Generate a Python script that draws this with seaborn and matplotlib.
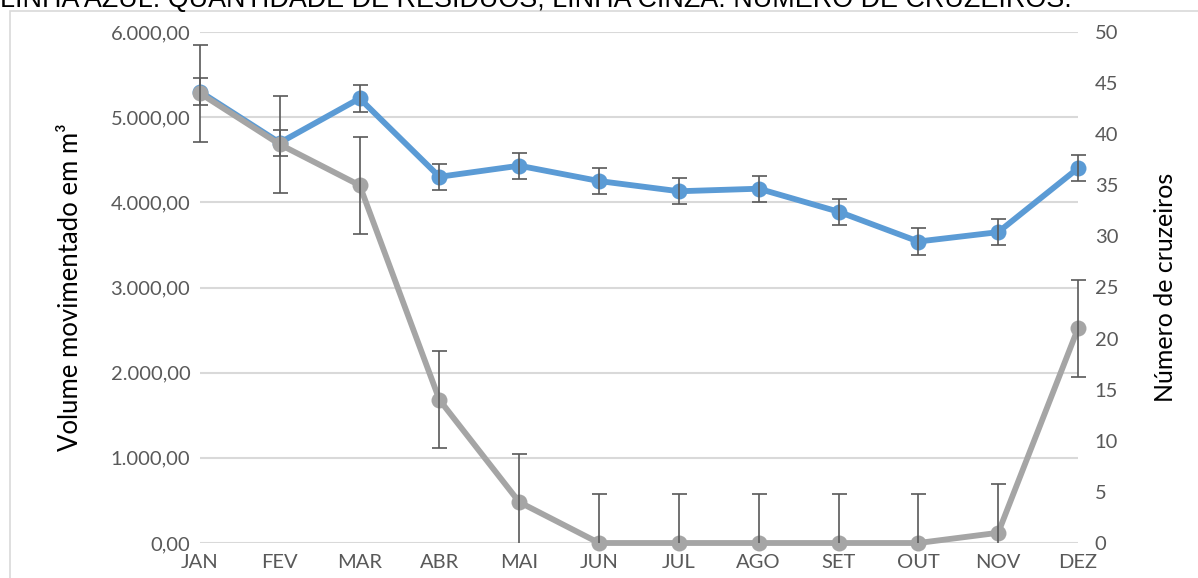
import matplotlib
matplotlib.use("Agg")
import matplotlib.pyplot as plt
import pandas as pd
import seaborn as sns
from matplotlib.ticker import FuncFormatter, MultipleLocator
from matplotlib.patches import Rectangle
from matplotlib.transforms import Bbox, TransformedBbox

meses = ["JAN", "FEV", "MAR", "ABR", "MAI", "JUN", "JUL", "AGO", "SET", "OUT", "NOV", "DEZ"]
volume = [5300, 4700, 5220, 4300, 4430, 4250, 4130, 4160, 3890, 3540, 3650, 4400]
volume_erro = [155] * 12
cruzeiros = [44, 39, 35, 14, 4, 0, 0, 0, 0, 0, 1, 21]
cruzeiros_erro = [4.75] * 12

titulo = "LINHA AZUL: QUANTIDADE DE RESÍDUOS; LINHA CINZA: NÚMERO DE CRUZEIROS."

AZUL = "#5B9BD5"
CINZA = "#A5A5A5"
ERRO = "#595959"
TEXTO = "#595959"

sns.set_theme(style="white")
plt.rcParams["font.family"] = ["Lato", "DejaVu Sans"]

df = pd.DataFrame({"mes": meses, "volume": volume, "cruzeiros": cruzeiros})
df["pos"] = range(len(df))

fig = plt.figure(figsize=(11.98, 5.78), dpi=100)
W, H = 1198, 578
ax = fig.add_axes([200 / W, 1 - 543 / H, 878 / W, 511 / H])
ax2 = ax.twinx()

# moldura do gráfico
fig.patches.append(Rectangle((10 / W, -0.1), 1.2, 1 - 11 / H + 0.1, transform=fig.transFigure,
                             fill=False, edgecolor="#D9D9D9", linewidth=1.2, zorder=0))
fig.text(0, 1 - 7 / H, titulo, fontsize=19.4, family=["Liberation Sans", "DejaVu Sans"],
         color="black", va="baseline", ha="left")


def clip_horizontal_livre(container, a):
    # corta só em y, deixa os traços das pontas aparecerem inteiros
    caixa = TransformedBbox(Bbox([[-0.05, 0], [1.05, 1]]), a.transAxes)
    for art in list(container.lines[1]) + list(container.lines[2]):
        art.set_clip_box(caixa)


sns.lineplot(data=df, x="pos", y="volume", ax=ax, color=AZUL, linewidth=4.2,
             marker="o", markersize=11.5, markeredgewidth=0, clip_on=False, zorder=3)
eb1 = ax.errorbar(df["pos"], df["volume"], yerr=volume_erro, fmt="none", ecolor=ERRO,
                  elinewidth=1.2, capsize=5.4, capthick=1.2, zorder=4)
clip_horizontal_livre(eb1, ax)

sns.lineplot(data=df, x="pos", y="cruzeiros", ax=ax2, color=CINZA, linewidth=4.2,
             marker="o", markersize=11.5, markeredgewidth=0, clip_on=False, zorder=3)
eb2 = ax2.errorbar(df["pos"], df["cruzeiros"], yerr=cruzeiros_erro, fmt="none", ecolor=ERRO,
                   elinewidth=1.2, capsize=5.4, capthick=1.2, zorder=4)
clip_horizontal_livre(eb2, ax2)

ax.set_xlim(0, 11)
ax.set_ylim(0, 6000)
ax2.set_ylim(0, 50)
ax.yaxis.set_major_locator(MultipleLocator(1000))
ax2.yaxis.set_major_locator(MultipleLocator(5))
ax.yaxis.set_major_formatter(FuncFormatter(
    lambda v, p: f"{v:,.2f}".replace(",", "X").replace(".", ",").replace("X", ".")))
ax.set_xticks(df["pos"])
ax.set_xticklabels(meses)

ax.grid(axis="y", color="#D9D9D9", linewidth=1.5)
ax.set_axisbelow(True)
for a in (ax, ax2):
    for s in a.spines.values():
        s.set_visible(False)
    a.tick_params(length=0, labelsize=14.5, colors=TEXTO)
ax.tick_params(axis="y", pad=7)
ax.tick_params(axis="x", pad=8)
ax2.tick_params(axis="y", pad=12)

ax.set_xlabel("")
ax.set_ylabel("Volume movimentado em m³", fontsize=18.5, color="black", labelpad=20)
ax2.set_ylabel("Número de cruzeiros", fontsize=18, color="black", labelpad=26)

fig.savefig("out.png", dpi=100)
